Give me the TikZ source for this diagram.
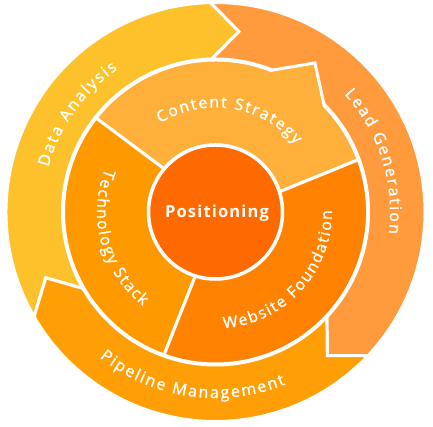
\documentclass[tikz,border=0pt]{standalone}
\usepackage{fontspec}
\setmainfont{Open Sans}
\newfontfamily\labfont[FakeBold=1.4]{Open Sans}
\newfontfamily\posfont[LetterSpace=7]{Open Sans}
\usetikzlibrary{decorations.text}
\definecolor{cData}{HTML}{FDC22B}
\definecolor{cLead}{HTML}{FF9B3D}
\definecolor{cPipe}{HTML}{FF9E05}
\definecolor{cCont}{HTML}{FFB03B}
\definecolor{cTech}{HTML}{FF9900}
\definecolor{cWeb}{HTML}{FF8200}
\definecolor{cPos}{HTML}{FF6A00}
\newcommand\ringtext{\labfont\fontsize{16}{18}\selectfont\kern1.9pt}
\newcommand\innertext{\labfont\fontsize{15.8}{18}\selectfont\kern1.7pt}
\begin{document}
\begin{tikzpicture}[x=1pt,y=1pt,
  seg/.style={draw=white, line width=3pt, line join=miter},
  lab/.style={decorate, decoration={text along path, text align=center, text color=white, text={#1}}}]
\useasboundingbox (0,0) rectangle (433,427);
\begin{scope}[shift={(215.5,215)}]
\def\Ro{209.5}\def\Ri{153}\def\Rt{182}
% outer arrows
\path[seg, fill=cData] (210:\Ro) arc[start angle=210, end angle=91.4, radius=\Ro]
  -- (82.6:\Rt) -- (91.4:\Ri) arc[start angle=91.4, end angle=210, radius=\Ri]
  -- (201.2:\Rt) -- cycle;
\path[seg, fill=cLead] (91.4:\Ro) arc[start angle=91.4, end angle=-43.3, radius=\Ro]
  -- (-52.1:\Rt) -- (-43.3:\Ri) arc[start angle=-43.3, end angle=91.4, radius=\Ri]
  -- (82.6:\Rt) -- cycle;
\path[seg, fill=cPipe] (-43.3:\Ro) arc[start angle=-43.3, end angle=-150, radius=\Ro]
  -- (-158.8:\Rt) -- (-150:\Ri) arc[start angle=-150, end angle=-43.3, radius=\Ri]
  -- (-52.1:\Rt) -- cycle;
% inner ring
\path[seg, fill=cCont] (141.8:152) arc[start angle=141.8, end angle=68.7, radius=152]
  -- (56.3:179.2) -- (44.3:152) arc[start angle=44.3, end angle=20.1, radius=152]
  -- (17.5:67) arc[start angle=17.5, end angle=140, radius=67] -- cycle;
\path[seg, fill=cTech] (250.2:152) arc[start angle=250.2, end angle=141.8, radius=152]
  -- (140:67) arc[start angle=140, end angle=252.5, radius=67] -- cycle;
\path[seg, fill=cWeb] (20.1:152) arc[start angle=20.1, end angle=-109.8, radius=152]
  -- (-107.5:67) arc[start angle=-107.5, end angle=17.5, radius=67] -- cycle;
% centre
\path[draw=white, line width=3.5pt, fill=cPos] (0,0) circle[radius=67];
\node[anchor=base, text=white, inner sep=0pt] (pos) at (1.5,-6)
  {\posfont\fontsize{16.5}{20}\selectfont\bfseries Positioning};
% labels
\path[lab={|\ringtext|Data Analysis}] (185:173) arc[start angle=185, end angle=105, radius=173];
\path[lab={|\ringtext|Lead Generation}] (58:174.5) arc[start angle=58, end angle=-22, radius=174.5];
\path[lab={|\ringtext|Pipeline Management}] (215:186) arc[start angle=215, end angle=308, radius=186];
\path[lab={|\innertext|Content Strategy}] (140:104.5) arc[start angle=140, end angle=23, radius=104.5];
\path[lab={|\innertext|Technology Stack}] (140:118.5) arc[start angle=140, end angle=250, radius=118.5];
\path[lab={|\innertext|Website Foundation}] (255:116.5) arc[start angle=255, end angle=379, radius=116.5];
\end{scope}
\end{tikzpicture}
\end{document}
